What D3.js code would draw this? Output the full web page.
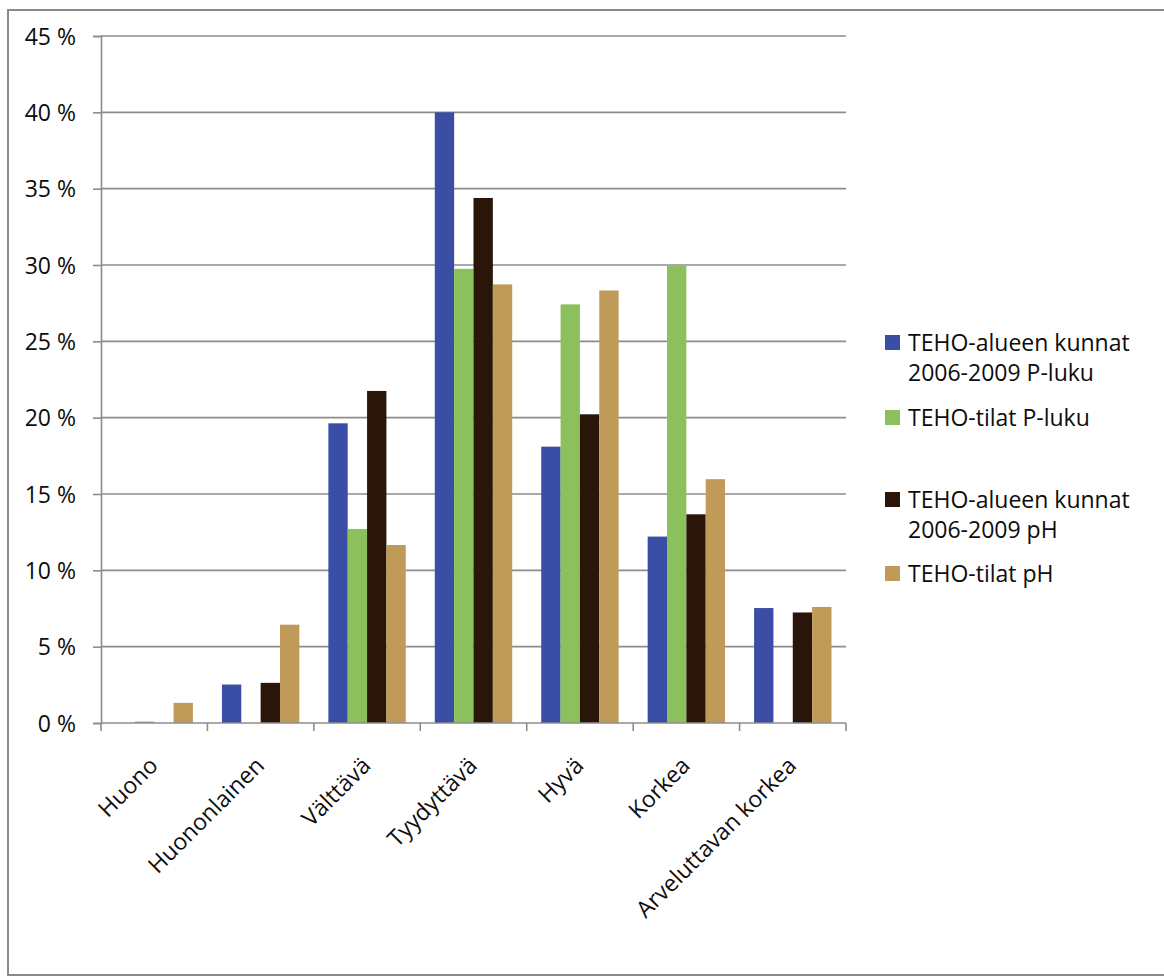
<!DOCTYPE html>
<html>
<head>
<meta charset="utf-8">
<script src="https://cdn.jsdelivr.net/npm/d3@7"></script>
<style>
  html, body { margin: 0; padding: 0; background: #fff; }
  svg { display: block; }
  text { font-family: "Open Sans", Lato, sans-serif; fill: #0d0d0d; }
</style>
</head>
<body>
<svg id="chart" width="1164" height="977"></svg>
<script>
// Soil test classes (x axis)
const categories = ["Huono", "Huononlainen", "Välttävä", "Tyydyttävä", "Hyvä", "Korkea", "Arveluttavan korkea"];

// Series names as shown in the legend
const seriesNames = [
  ["TEHO-alueen kunnat", "2006-2009 P-luku"],
  ["TEHO-tilat P-luku"],
  ["TEHO-alueen kunnat", "2006-2009 pH"],
  ["TEHO-tilat pH"]
];

// Share of samples per class, percent
const kunnatP = [0.0, 2.52, 19.63, 40.0, 18.1, 12.21, 7.53];
const tilatP  = [0.1, 0.0, 12.71, 29.75, 27.42, 29.97, 0.0];
const kunnatPH = [0.0, 2.63, 21.75, 34.39, 20.22, 13.67, 7.24];
const tilatPH  = [1.32, 6.44, 11.66, 28.73, 28.33, 15.97, 7.6];

const yTicks = [0, 5, 10, 15, 20, 25, 30, 35, 40, 45];

const seriesValues = [kunnatP, tilatP, kunnatPH, tilatPH];
const colors = ["#3a4ea5", "#8cc05c", "#2a1608", "#bf9a58"];

const svg = d3.select("#chart");

// outer frame
svg.append("rect")
  .attr("x", 8).attr("y", 10)
  .attr("width", 1180).attr("height", 965)
  .attr("fill", "none")
  .attr("stroke", "#8a8a8a")
  .attr("stroke-width", 2);

const plot = { left: 101, right: 846, top: 36, bottom: 723 };

const x0 = d3.scaleBand()
  .domain(categories)
  .range([plot.left, plot.right])
  .paddingInner(0).paddingOuter(0);

const x1 = d3.scaleBand()
  .domain(d3.range(seriesValues.length))
  .range([0, x0.bandwidth()])
  .paddingInner(0)
  .paddingOuter(0.75);

const y = d3.scaleLinear().domain([0, 45]).range([plot.bottom, plot.top]);

// horizontal gridlines
svg.append("g")
  .selectAll("line")
  .data(yTicks.filter(t => t > 0))
  .join("line")
  .attr("x1", plot.left).attr("x2", plot.right)
  .attr("y1", d => y(d)).attr("y2", d => y(d))
  .attr("stroke", "#8c8c8c")
  .attr("stroke-width", 1.6);

// bars
const groups = svg.append("g")
  .selectAll("g")
  .data(categories)
  .join("g")
  .attr("transform", d => `translate(${x0(d)},0)`);

groups.selectAll("rect")
  .data((c, i) => seriesValues.map((vals, s) => ({ s, v: vals[i] })))
  .join("rect")
  .attr("x", d => x1(d.s))
  .attr("width", x1.bandwidth())
  .attr("y", d => y(d.v))
  .attr("height", d => y(0) - y(d.v))
  .attr("fill", d => colors[d.s]);

// y axis
const yAxis = d3.axisLeft(y)
  .tickValues(yTicks)
  .tickSize(8)
  .tickFormat(d => d + " %");

const gy = svg.append("g")
  .attr("transform", `translate(${plot.left},0)`)
  .call(yAxis);
gy.select(".domain").attr("stroke", "#8c8c8c").attr("stroke-width", 1.6);
gy.selectAll(".tick line").attr("stroke", "#8c8c8c").attr("stroke-width", 1.6);
gy.selectAll(".tick text")
  .attr("x", -25)
  .attr("dy", "0.36em")
  .style("font-size", "23px")
  .style("font-family", "'Open Sans', sans-serif")
  .attr("fill", "#0d0d0d");

// x axis
const gx = svg.append("g")
  .attr("transform", `translate(0,${plot.bottom})`);
gx.append("line")
  .attr("x1", plot.left).attr("x2", plot.right)
  .attr("stroke", "#8c8c8c").attr("stroke-width", 1.6);
gx.selectAll("line.tk")
  .data(d3.range(categories.length + 1))
  .join("line")
  .attr("class", "tk")
  .attr("x1", i => plot.left + i * x0.step())
  .attr("x2", i => plot.left + i * x0.step())
  .attr("y1", 0).attr("y2", 8)
  .attr("stroke", "#8c8c8c").attr("stroke-width", 1.6);

gx.selectAll("text")
  .data(categories)
  .join("text")
  .attr("text-anchor", "end")
  .attr("transform", d => `translate(${x0(d) + x0.bandwidth() / 2 + 5},${44}) rotate(-45)`)
  .style("font-size", "23px")
  .text(d => d);

// legend
const legendRows = [
  { top: 335, lines: seriesNames[0] },
  { top: 410, lines: seriesNames[1] },
  { top: 492, lines: seriesNames[2] },
  { top: 566, lines: seriesNames[3] }
];
const legend = svg.append("g");
legendRows.forEach((row, i) => {
  legend.append("rect")
    .attr("x", 885).attr("y", row.top)
    .attr("width", 15).attr("height", 15)
    .attr("fill", colors[i]);
  row.lines.forEach((ln, j) => {
    legend.append("text")
      .attr("x", 908)
      .attr("y", row.top + 16 + j * 30)
      .style("font-size", "23px")
      .text(ln);
  });
});
</script>
</body>
</html>
